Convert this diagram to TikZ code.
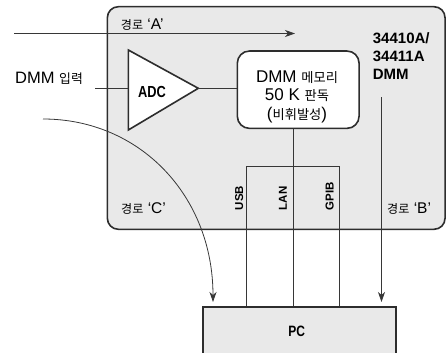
\documentclass[tikz,border=0pt]{standalone}
\usepackage{fontspec}
\setmainfont{Liberation Sans}
\newfontfamily\kr{Noto Sans CJK KR}[Scale=0.78]
\newfontfamily\cond{Liberation Sans}[FakeStretch=0.8]
\usetikzlibrary{arrows.meta}
\definecolor{boxgray}{RGB}{233,233,233}
\definecolor{edgecol}{RGB}{45,45,45}
\definecolor{wirecol}{RGB}{55,55,55}
\begin{document}
\begin{tikzpicture}[x=1pt,y=-1pt,
  shell/.style={draw=edgecol, line width=1.6pt, fill=boxgray, rounded corners=11pt, inner sep=0pt,
    minimum width=337.7pt, minimum height=222.6pt},
  membox/.style={draw=edgecol, line width=1.6pt, fill=white, rounded corners=12pt, inner sep=0pt,
    minimum width=121.7pt, minimum height=77.3pt},
  pcbox/.style={draw=edgecol, line width=1.6pt, fill=boxgray, inner sep=0pt,
    minimum width=193pt, minimum height=80pt},
  tri/.style={draw=edgecol, line width=1.6pt, fill=white, line join=miter},
  wire/.style={draw=wirecol, line width=0.8pt},
  arr/.style={wire, -{Stealth[length=10pt,width=7pt,inset=3pt]}},
  lbl/.style={inner sep=0pt, font=\fontsize{16.5}{18}\selectfont},
  memtxt/.style={inner sep=0pt, anchor=base, font=\fontsize{17}{18}\selectfont},
  path/.style={inner sep=0pt, anchor=base west, font=\fontsize{15.5}{17}\selectfont},
  model/.style={inner sep=0pt, anchor=base west, font=\fontsize{15}{17}\selectfont\bfseries},
  bus/.style={inner sep=0pt, rotate=90, anchor=west, font=\fontsize{11.5}{13}\selectfont\bfseries},
  condtxt/.style={inner sep=0pt, anchor=base, font=\cond\bfseries}
]
\clip (0,0) rectangle (447,353);
% main instrument box
\node[shell] (dmm) at (276.2,118) {};
% PC box
\node[pcbox] (pc) at (299.5,347) {};
% ADC triangle
\coordinate (adcTL) at (128.3,50);
\coordinate (adcBL) at (128.3,130);
\coordinate (adctip) at (198.3,88.3);
\draw[tri] (adcTL) -- (adctip) -- (adcBL) -- cycle;
\node[condtxt, font=\cond\bfseries\fontsize{16}{18}\selectfont] (adc) at (152,97.3) {ADC};
% memory box
\node[membox] (mem) at (298.2,89.7) {};
\node[memtxt] (mem1) at (297,82) {DMM {\kr 메모리}};
\node[memtxt] (mem2) at (297,100.5) {50 K {\kr 판독}};
\node[memtxt] (mem3) at (297,119) {({\kr 비휘발성})};
% input
\node[lbl, anchor=base west] (inlbl) at (15,83.3) {DMM {\kr 입력}};
\coordinate (inStart) at (95,88.3);
\draw[wire] (inStart) -- (inStart -| adcTL);
\draw[wire] (adctip) -- (adctip -| mem.west);
% path A
\coordinate (aStart) at (14,33.5);
\coordinate (aEnd) at (295,33.5);
\draw[arr] (aStart) -- (aEnd);
\node[path] (pa) at (120.7,29.5) {{\kr 경로} ‘A’};
% model label
\node[model] (m1) at (372.7,44) {34410A/};
\node[model] (m2) at (372.7,61.7) {34411A};
\node[model] (m3) at (372.7,79.3) {DMM};
% interfaces
\coordinate (lanx) at (293.3,0);
\coordinate (usbtop) at (246,166.7);
\coordinate (gpibtop) at (339.3,166.7);
\draw[wire] (mem.south -| lanx) -- (lanx |- pc.north);
\draw[wire] (usbtop |- pc.north) -- (usbtop) -- (gpibtop) -- (gpibtop |- pc.north);
\node[bus] (usb) at (239.2,210.5) {USB};
\node[bus] (lan) at (283,210.5) {LAN};
\node[bus] (gpib) at (329.7,210.5) {GPIB};
% path B
\coordinate (bStart) at (381.5,97);
\coordinate (bEnd) at (381.5,302);
\draw[arr] (bStart) -- (bEnd);
\node[path] (pb) at (387,213.3) {{\kr 경로} ‘B’};
% path C
\coordinate (cStart) at (43,119);
\coordinate (cEnd) at (213,302);
\draw[arr] (cStart) .. controls (140,119) and (213,196) .. (cEnd);
\node[path] (pcl) at (121,213.3) {{\kr 경로} ‘C’};
% PC label
\node[condtxt, font=\cond\bfseries\fontsize{15}{17}\selectfont] (pclbl) at (296.7,336.5) {PC};
\end{tikzpicture}
\end{document}
